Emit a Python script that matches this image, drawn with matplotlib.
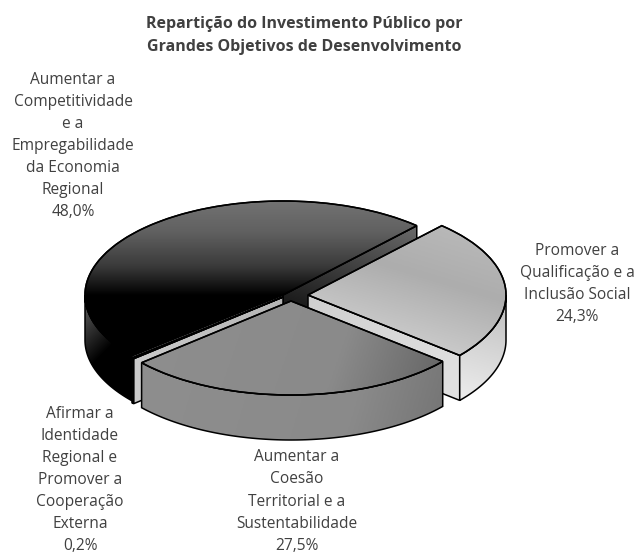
import numpy as np
import matplotlib
matplotlib.use('Agg')
import matplotlib.pyplot as plt
from matplotlib.colors import LinearSegmentedColormap
from matplotlib.patches import Polygon
from matplotlib.transforms import Affine2D

# Data
title = 'Repartição do Investimento Público por\nGrandes Objetivos de Desenvolvimento'
names = ['Aumentar a\nCompetitividade\ne a\nEmpregabilidade\nda Economia\nRegional',
         'Afirmar a\nIdentidade\nRegional e\nPromover a\nCooperação\nExterna',
         'Aumentar a\nCoesão\nTerritorial e a\nSustentabilidade',
         'Promover a\nQualificação e a\nInclusão Social']
values = [48.0, 0.2, 27.5, 24.3]
value_labels = ['48,0%', '0,2%', '27,5%', '24,3%']

# Layout, in pixels of the picture
W, H = 637, 554
RX, RY, DEPTH = 198, 94, 45
centers = [(283, 295), (283, 297), (291, 301), (308, 295)]
label_pos = [(73, 146), (80, 480), (297, 501.5), (577, 284)]

plt.rcParams['font.family'] = ['Open Sans', 'DejaVu Sans']
fig = plt.figure(figsize=(W / 100, H / 100), dpi=100)
ax = fig.add_axes([0, 0, 1, 1])
wedges, _ = ax.pie(values, startangle=47.5, counterclock=True)


def arc(center, t1, t2):
    t = np.radians(np.linspace(t1, t2, 120))
    return np.column_stack([center[0] + RX * np.cos(t), center[1] - RY * np.sin(t)])


def shade(pts, stops, direction, z):
    # gradient image clipped to the polygon, with a black outline on top
    pts = np.asarray(pts)
    x0, y0 = pts.min(axis=0)
    x1, y1 = pts.max(axis=0)
    xx, yy = np.meshgrid(np.linspace(x0, x1, 200), np.linspace(y0, y1, 200))
    grad = xx * direction[0] + yy * direction[1]
    cmap = LinearSegmentedColormap.from_list('g', stops)
    im = ax.imshow(grad, cmap=cmap, extent=(x0, x1, y1, y0), origin='upper',
                   aspect='auto', zorder=z, interpolation='bilinear')
    outline = Polygon(pts, closed=True, fc='none', ec='black', lw=1.1, zorder=z + 0.1)
    ax.add_patch(outline)
    im.set_clip_path(outline)


def top(i, stops, direction, z):
    w = wedges[i]
    c = centers[i]
    pts = np.vstack([[c], arc(c, w.theta1, w.theta2)])
    shade(pts, stops, direction, z)
    # the pie's own wedge is moved onto the squashed ellipse as outline
    w.set_transform(Affine2D().scale(RX, -RY).translate(*c) + ax.transData)
    w.set(facecolor='none', edgecolor='black', linewidth=1.1, zorder=z + 0.2)


def wall(i, t1, t2, stops, direction, z):
    rim = arc(centers[i], t1, t2)
    shade(np.vstack([rim, rim[::-1] + [0, DEPTH]]), stops, direction, z)


def cut(i, t, stops, direction, z):
    c = np.array(centers[i], dtype=float)
    edge = arc(c, t, t)[0]
    shade([c, edge, edge + [0, DEPTH], c + [0, DEPTH]], stops, direction, z)


a = [w.theta1 for w in wedges]
b = [w.theta2 for w in wedges]

# Black slice
cut(0, a[0], ['#000000', '#6a6a6a'], (0.3, -1), 1)
wall(0, 180, b[0], ['#666666', '#000000', '#000000'], (1, 1), 2)
top(0, [(0, '#727272'), (0.2, '#606060'), (0.42, '#3a3a3a'), (0.61, '#000000'), (1, '#000000')], (0, 1), 3)

# Thin slice
cut(1, b[1], ['#cccccc', '#b4b4b4'], (1, 0), 4)
wall(1, a[1], b[1], ['#222222', '#222222'], (0, 1), 4.5)
top(1, ['#777777', '#444444'], (1, 0), 5)

# Light slice
cut(3, a[3], ['#cfcfcf', '#e2e2e2'], (1, 1), 6)
wall(3, a[3], 360, ['#bdbdbd', '#ededed'], (-0.3, 1), 7)
top(3, [(0, '#bcbcbc'), (0.4, '#adadad'), (1, '#dcdcdc')], (-0.3, 1), 8)

# Grey slice
wall(2, a[2], b[2], [(0, '#8e8e8e'), (0.7, '#8a8a8a'), (1, '#747474')], (1, 0.3), 9)
top(2, [(0, '#8e8e8e'), (0.65, '#8a8a8a'), (1, '#646464')], (1, 0.35), 10)

ax.text(304, 35.5, title, ha='center', va='center', fontsize=11.5, fontweight='bold',
        color='#404040', linespacing=1.58)
for name, val, (x, y) in zip(names, value_labels, label_pos):
    ax.text(x, y, name + '\n' + val, ha='center', va='center', fontsize=11.2,
            color='#404040', linespacing=1.51, zorder=20)

ax.set_xlim(0, W)
ax.set_ylim(H, 0)
ax.set_aspect('auto')
ax.axis('off')
fig.savefig('out.png', dpi=100, facecolor='white')
